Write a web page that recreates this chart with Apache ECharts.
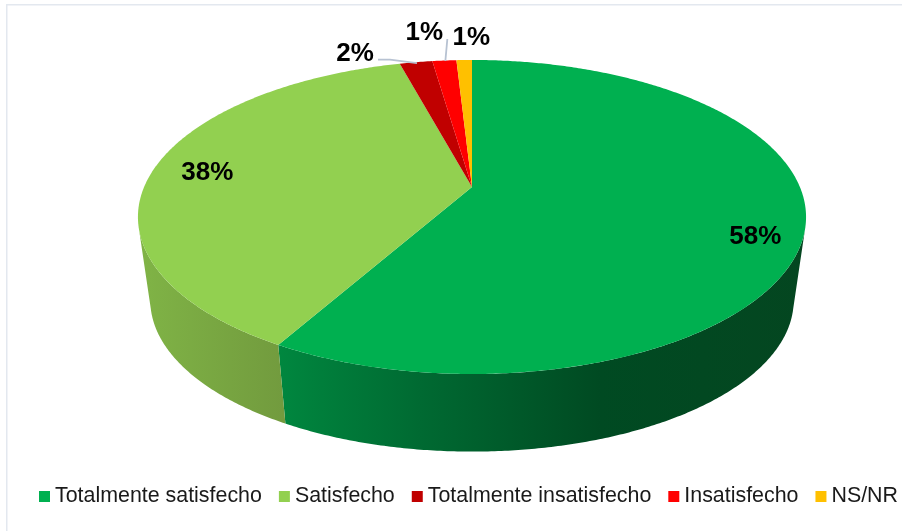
<!DOCTYPE html>
<html>
<head>
<meta charset="utf-8">
<style>html,body{margin:0;padding:0;background:#fff}#c{width:902px;height:531px}</style>
<script src="https://cdn.jsdelivr.net/npm/echarts@6/dist/echarts.min.js"></script>
</head>
<body>
<div id="c"></div>
<script>
const categories = ['Totalmente satisfecho', 'Satisfecho', 'Totalmente insatisfecho', 'Insatisfecho', 'NS/NR'];
const values = [58.2, 37.6, 1.9, 1.4, 0.9];
const colors = ['#00B050', '#92D050', '#C00000', '#FF0000', '#FFC000'];

// perspective layout of the pie disc
const CX = 472, CY = 187, A = 327.9, B = 151.3, K = 0.191, S = 0.963, D = 84.5;
const WALL_FROM = 104, WALL_TO = 256;
const wallStops = [
  [[278, '#00873F'], [420, '#006A32'], [600, '#004A22'], [806, '#044620']],
  [[138, '#80B446'], [283, '#729B3E']]
];
const wallRange = [[278, 806], [138, 283]];
const labelOffsets = [[-50, 9], [53, 4], [-61, -8], [-20, -27.5], [7, -22]];
const leaderOffsets = [null, null, [[-38, -2.5], [-26, -2.5], [1, 1]], [[3, -21.5], [1, 0.5]], null];

const total = values.reduce((a, b) => a + b, 0);
const starts = [];
values.reduce((acc, v, i) => { starts[i] = acc; return acc + v; }, 0);
const deg = v => v / total * 360;

function rimTop(theta) {
  const t = theta * Math.PI / 180;
  const u = Math.sin(t), v = -Math.cos(t), d = 1 - K * v;
  return [CX + A * u / d, CY + B * v / d];
}
function rimBottom(theta) {
  const p = rimTop(theta);
  return [CX + S * (p[0] - CX), CY + S * (p[1] - CY) + D];
}
function arc(fn, a, b) {
  const pts = [], n = Math.max(2, Math.ceil(Math.abs(b - a) * 2));
  for (let i = 0; i <= n; i++) pts.push(fn(a + (b - a) * i / n));
  return pts;
}

function render(i) {
  return function () {
    const a = deg(starts[i]), b = deg(starts[i] + values[i]);
    const children = [];
    const wa = Math.max(a, WALL_FROM), wb = Math.min(b, WALL_TO);
    if (wb > wa && wallStops[i]) {
      const r = wallRange[i];
      children.push({
        type: 'polygon',
        shape: { points: arc(rimTop, wa, wb).concat(arc(rimBottom, wa, wb).reverse()) },
        style: {
          fill: {
            type: 'linear', global: true, x: r[0], y: 0, x2: r[1], y2: 0,
            colorStops: wallStops[i].map(s => ({ offset: (s[0] - r[0]) / (r[1] - r[0]), color: s[1] }))
          }
        }
      });
    }
    children.push({
      type: 'polygon',
      shape: { points: [[CX, CY]].concat(arc(rimTop, a, b)) },
      style: { fill: colors[i] }
    });
    const mid = rimTop((a + b) / 2);
    if (leaderOffsets[i]) {
      children.push({
        type: 'polyline',
        shape: { points: leaderOffsets[i].map(o => [mid[0] + o[0], mid[1] + o[1]]) },
        style: { stroke: '#B7C2D2', lineWidth: 1.8, fill: null }
      });
    }
    children.push({
      type: 'text',
      style: {
        text: Math.round(values[i]) + '%',
        x: mid[0] + labelOffsets[i][0], y: mid[1] + labelOffsets[i][1],
        align: 'center', verticalAlign: 'middle',
        fill: '#000', font: 'bold 26px "Liberation Sans", Arial, sans-serif'
      }
    });
    return { type: 'group', children };
  };
}

const chart = echarts.init(document.getElementById('c'), null, { renderer: 'canvas' });
chart.setOption({
  animation: false,
  backgroundColor: '#fff',
  graphic: [
    { type: 'rect', silent: true, shape: { x: 6, y: 4, width: 896, height: 1.5 }, style: { fill: '#E3E8EF' } },
    { type: 'rect', silent: true, shape: { x: 6, y: 4, width: 1.5, height: 527 }, style: { fill: '#E3E8EF' } }
  ],
  legend: {
    left: 39, top: 486, padding: 0, itemWidth: 11, itemHeight: 11, itemGap: 17, icon: 'rect',
    selectedMode: false, data: categories,
    textStyle: { fontFamily: '"Liberation Sans", Arial, sans-serif', fontSize: 21.4, color: '#1a1a1a' }
  },
  series: categories.map((name, i) => ({
    type: 'custom', name, coordinateSystem: 'none', silent: true,
    itemStyle: { color: colors[i] },
    data: [values[i]],
    renderItem: render(i)
  }))
});
</script>
</body>
</html>
